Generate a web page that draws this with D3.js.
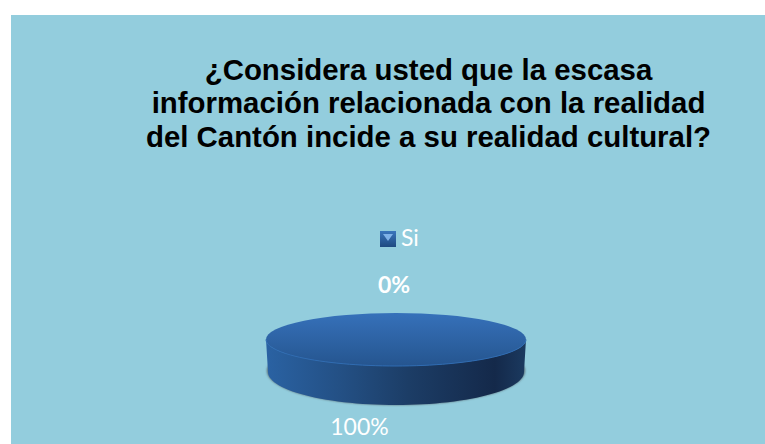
<!DOCTYPE html>
<html>
<head>
<meta charset="utf-8">
<script src="https://d3js.org/d3.v7.min.js"></script>
<style>
  html, body { margin: 0; padding: 0; background: #fff; }
  svg { display: block; }
</style>
</head>
<body>
<div id="chart"></div>
<script>
// data
var titleLines = [
  "¿Considera usted que la escasa",
  "información relacionada con la realidad",
  "del Cantón incide a su realidad cultural?"
];
var categories = ["Si", "No"];
var values = [0, 100];
var percentLabels = ["0%", "100%"];
var legendItems = ["Si"];

var width = 765, height = 444;
var cx = 396, cy = 339.5, rx = 130, ry = 26.5;
// the underside is a slightly smaller, deeper ellipse so the rim curves in
var bottomCy = 372, bottomRx = 128, bottomRy = 33;

var svg = d3.select("#chart").append("svg")
  .attr("width", width)
  .attr("height", height);

var defs = svg.append("defs");

function gradient(id, x2, y2, stops) {
  var g = defs.append("linearGradient").attr("id", id)
    .attr("x1", 0).attr("y1", 0).attr("x2", x2).attr("y2", y2);
  stops.forEach(function (s) {
    g.append("stop").attr("offset", s[0]).attr("stop-color", s[1]);
  });
}
gradient("topFace", 0, 1, [[0, "#3671ba"], [1, "#25558f"]]);
gradient("sideFace", 1, 0, [[0, "#2a62a3"], [0.3, "#234f83"], [0.55, "#1c3d66"], [0.88, "#14294a"], [1, "#1b3a60"]]);
gradient("legendBox", 0, 1, [[0, "#3a76bd"], [1, "#1f4a80"]]);
defs.append("filter").attr("id", "blur")
  .attr("x", "-10%").attr("y", "-30%").attr("width", "120%").attr("height", "160%")
  .append("feGaussianBlur").attr("stdDeviation", 1.2);

// panel
svg.append("rect")
  .attr("x", 11).attr("y", 15)
  .attr("width", width - 11).attr("height", height - 15)
  .attr("fill", "#93cddd");

// title
svg.append("g").selectAll("text")
  .data(titleLines)
  .enter()
  .append("text")
  .attr("x", 428.5)
  .attr("y", function (d, i) { return 79.5 + i * 33.7; })
  .attr("text-anchor", "middle")
  .attr("font-family", "'Liberation Sans', Arial, sans-serif")
  .attr("font-weight", "bold")
  .attr("font-size", 29.4)
  .attr("fill", "#000")
  .text(function (d) { return d; });

// pie, drawn as a unit circle and squashed into an ellipse
var pie = d3.pie().sort(null).value(function (d) { return d; });
var slices = pie(values);
var arc = d3.arc().innerRadius(0).outerRadius(1);

var halfTurn = d3.range(0, 61).map(function (i) { return Math.PI * i / 60; });

var topLine = d3.line()
  .x(function (a) { return cx + rx * Math.cos(a); })
  .y(function (a) { return cy + ry * Math.sin(a); });
var bottomLine = d3.line()
  .x(function (a) { return cx + bottomRx * Math.cos(a); })
  .y(function (a) { return bottomCy + bottomRy * Math.sin(a); });

// shadow under the disc
svg.append("ellipse")
  .attr("cx", cx).attr("cy", bottomCy - 1)
  .attr("rx", bottomRx + 1).attr("ry", bottomRy + 1)
  .attr("fill", "#55666e")
  .attr("filter", "url(#blur)");

// side wall: lower rim of the top ellipse joined to the underside
svg.append("path")
  .attr("d", topLine(halfTurn) + "L" + bottomLine(halfTurn.slice().reverse()).slice(1) + "Z")
  .attr("fill", "url(#sideFace)");

svg.append("g")
  .attr("transform", "translate(" + cx + "," + cy + ") scale(" + rx + "," + ry + ")")
  .selectAll("path")
  .data(slices)
  .enter()
  .append("path")
  .attr("d", arc)
  .attr("fill", "url(#topFace)");

// thin highlight on the front rim
svg.append("path")
  .attr("d", topLine(halfTurn))
  .attr("fill", "none")
  .attr("stroke", "#2f6cb3")
  .attr("stroke-width", 1);

// legend
var legend = svg.append("g").selectAll("g")
  .data(legendItems)
  .enter()
  .append("g")
  .attr("transform", "translate(380,231)");
legend.append("rect")
  .attr("width", 16).attr("height", 16)
  .attr("fill", "url(#legendBox)");
legend.append("path")
  .attr("d", "M3,3H13L8,10Z")
  .attr("fill", "#7fb2e8");
legend.append("text")
  .attr("x", 21).attr("y", 15)
  .attr("font-family", "Lato, 'Open Sans', sans-serif")
  .attr("font-size", 23)
  .attr("fill", "#fff")
  .text(function (d) { return d; });

// percent labels
svg.append("text")
  .attr("x", 394).attr("y", 293)
  .attr("text-anchor", "middle")
  .attr("font-family", "Lato, 'Open Sans', sans-serif")
  .attr("font-weight", "bold")
  .attr("font-size", 23)
  .attr("fill", "#fff")
  .text(percentLabels[0]);

svg.append("text")
  .attr("x", 359.5).attr("y", 435)
  .attr("text-anchor", "middle")
  .attr("font-family", "Lato, 'Open Sans', sans-serif")
  .attr("font-size", 23)
  .attr("fill", "#fff")
  .text(percentLabels[1]);
</script>
</body>
</html>
